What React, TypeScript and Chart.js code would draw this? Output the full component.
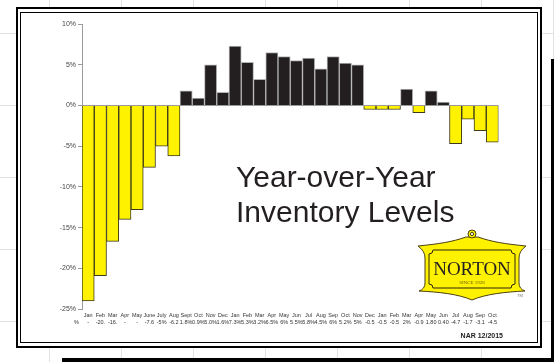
import React, { useEffect, useRef } from "react";
import { Chart, registerables } from "chart.js";

Chart.register(...registerables);

const months = [
  "Jan", "Feb", "Mar", "Apr", "May", "June", "July", "Aug", "Sept", "Oct", "Nov", "Dec",
  "Jan", "Feb", "Mar", "Apr", "May", "Jun", "Jul", "Aug", "Sep", "Oct", "Nov", "Dec",
  "Jan", "Feb", "Mar", "Apr", "May", "Jun", "Jul", "Aug", "Sep", "Oct",
];

const valueLabels = [
  "-", "-20.", "-16.", "-", "-", "-7.6", "-5%", "-6.2", "1.8%", "0.9%", "5.0%", "1.6%",
  "7.3%", "5.3%", "3.2%", "6.5%", "6%", "5.5%", "5.8%", "4.5%", "6%", "5.2%", "5%", "-0.5",
  "-0.5", "-0.5", "2%", "-0.9", "1.80", "0.40", "-4.7", "-1.7", "-3.1", "-4.5",
];

const values = [
  -24, -20.9, -16.7, -14, -12.8, -7.6, -5, -6.2, 1.8, 0.9, 5.0, 1.6,
  7.3, 5.3, 3.2, 6.5, 6, 5.5, 5.8, 4.5, 6, 5.2, 5, -0.5,
  -0.5, -0.5, 2, -0.9, 1.8, 0.4, -4.7, -1.7, -3.1, -4.5,
];

const yMin = -25;
const yMax = 10;
const yStep = 5;

const titleLines = ["Year-over-Year", "Inventory Levels"];
const sourceNote = "NAR 12/2015";
const rowHeader = "%";
const logoName = "NORTON";
const logoSince = "SINCE 1928";
const logoTm = "TM";

const FONT = '"Liberation Sans", Arial, Helvetica, sans-serif';
const SERIF = '"Liberation Serif", "Times New Roman", serif';
const YELLOW = "#fff200";
const DARK = "#231f20";

function drawLogo(ctx: CanvasRenderingContext2D) {
  ctx.save();
  // outer cartouche
  ctx.beginPath();
  ctx.moveTo(418, 246);
  ctx.bezierCurveTo(438, 244, 452, 242, 466, 237);
  ctx.lineTo(478, 237);
  ctx.bezierCurveTo(492, 242, 506, 244, 526, 246);
  ctx.quadraticCurveTo(519, 251, 519, 258);
  ctx.lineTo(519, 283);
  ctx.quadraticCurveTo(519, 289, 525, 291);
  ctx.bezierCurveTo(505, 292, 486, 294, 472, 300);
  ctx.bezierCurveTo(458, 294, 439, 292, 419, 291);
  ctx.quadraticCurveTo(425, 289, 425, 283);
  ctx.lineTo(425, 258);
  ctx.quadraticCurveTo(425, 251, 418, 246);
  ctx.closePath();
  ctx.fillStyle = YELLOW;
  ctx.fill();
  ctx.strokeStyle = "#4a3f10";
  ctx.lineWidth = 1;
  ctx.stroke();
  // ring
  ctx.beginPath();
  ctx.arc(472, 234, 4, 0, Math.PI * 2);
  ctx.fillStyle = YELLOW;
  ctx.fill();
  ctx.stroke();
  ctx.beginPath();
  ctx.arc(472, 234, 1.6, 0, Math.PI * 2);
  ctx.fillStyle = "#fff";
  ctx.fill();
  ctx.stroke();
  // inner panel with concave corners
  const x0 = 429, y0 = 250, x1 = 515, y1 = 288, r = 4;
  ctx.beginPath();
  ctx.moveTo(x0 + r, y0);
  ctx.lineTo(x1 - r, y0);
  ctx.arc(x1, y0, r, Math.PI, Math.PI / 2, true);
  ctx.lineTo(x1, y1 - r);
  ctx.arc(x1, y1, r, (3 * Math.PI) / 2, Math.PI, true);
  ctx.lineTo(x0 + r, y1);
  ctx.arc(x0, y1, r, 0, -Math.PI / 2, true);
  ctx.lineTo(x0, y0 + r);
  ctx.arc(x0, y0, r, Math.PI / 2, 0, true);
  ctx.closePath();
  ctx.strokeStyle = "#2a2410";
  ctx.stroke();
  // text
  ctx.fillStyle = DARK;
  ctx.textAlign = "center";
  ctx.textBaseline = "alphabetic";
  ctx.font = `19px ${SERIF}`;
  ctx.fillText(logoName, 472, 275);
  ctx.font = `5px ${SERIF}`;
  ctx.fillStyle = "#6b5a10";
  ctx.fillText(logoSince, 472, 284);
  ctx.font = `4px ${FONT}`;
  ctx.fillStyle = "#777";
  ctx.fillText(logoTm, 520, 297);
  ctx.restore();
}

export default function App() {
  const ref = useRef<HTMLCanvasElement>(null);

  useEffect(() => {
    if (!ref.current) return;

    const decor = {
      id: "decor",
      beforeDraw(chart: any) {
        const ctx: CanvasRenderingContext2D = chart.ctx;
        ctx.save();
        ctx.fillStyle = "#fff";
        ctx.fillRect(0, 0, 554, 362);
        // faint spreadsheet grid behind
        ctx.strokeStyle = "#e2e2e2";
        ctx.lineWidth = 1;
        for (let x = 49; x < 554; x += 72) {
          ctx.beginPath();
          ctx.moveTo(x + 0.5, 0);
          ctx.lineTo(x + 0.5, 362);
          ctx.stroke();
        }
        for (let y = 33; y < 362; y += 72) {
          ctx.beginPath();
          ctx.moveTo(0, y + 0.5);
          ctx.lineTo(554, y + 0.5);
          ctx.stroke();
        }
        // shadow
        ctx.fillStyle = "#000";
        ctx.fillRect(62, 358, 492, 4);
        ctx.fillRect(551, 59, 3, 303);
        // frame
        ctx.fillStyle = "#fff";
        ctx.fillRect(16, 7, 526, 341);
        ctx.strokeStyle = "#000";
        ctx.lineWidth = 2;
        ctx.strokeRect(17, 8, 524, 339);
        ctx.lineWidth = 1;
        ctx.strokeRect(20.5, 12.5, 517, 330);
        ctx.restore();
      },
      afterDraw(chart: any) {
        const ctx: CanvasRenderingContext2D = chart.ctx;
        ctx.save();
        // title
        ctx.fillStyle = DARK;
        ctx.textAlign = "left";
        ctx.textBaseline = "alphabetic";
        ctx.font = `30px ${FONT}`;
        ctx.fillText(titleLines[0], 236, 187);
        ctx.fillText(titleLines[1], 236, 222);
        // row header
        ctx.font = `5.5px ${FONT}`;
        ctx.fillStyle = "#333";
        ctx.textAlign = "center";
        ctx.textBaseline = "middle";
        ctx.fillText(rowHeader, 76.5, 322.5);
        // note
        ctx.font = `bold 7px ${FONT}`;
        ctx.fillStyle = "#222";
        ctx.textAlign = "right";
        ctx.textBaseline = "alphabetic";
        ctx.fillText(sourceNote, 503, 338);
        ctx.restore();
        drawLogo(ctx);
      },
    };

    const labels = months.map((m, i) => [m, valueLabels[i]]);
    const fills = values.map((v) => (v >= 0 ? DARK : YELLOW));
    const borders = values.map((v) => (v >= 0 ? "#b5b5b5" : "#3d3a1a"));

    const chart = new Chart(ref.current, {
      type: "bar",
      data: {
        labels,
        datasets: [
          {
            data: values,
            backgroundColor: fills,
            borderColor: borders,
            borderWidth: 1,
            categoryPercentage: 1,
            barPercentage: 1,
          },
        ],
      },
      options: {
        responsive: false,
        animation: false,
        devicePixelRatio: 1,
        layout: { padding: { left: 0, right: 55.5, top: 24, bottom: 28 } },
        plugins: {
          legend: { display: false },
          tooltip: { enabled: false },
        },
        scales: {
          x: {
            grid: { display: false, drawTicks: false },
            border: { display: false },
            ticks: {
              autoSkip: false,
              maxRotation: 0,
              minRotation: 0,
              padding: 3,
              color: "#333",
              font: { family: FONT, size: 5.5, lineHeight: 1.25 },
            },
            afterFit: (s: any) => {
              s.height = 25;
            },
          },
          y: {
            min: yMin,
            max: yMax,
            ticks: {
              stepSize: yStep,
              padding: 2,
              color: "#444",
              font: { family: FONT, size: 7 },
              callback: (v: any) => `${v}%`,
            },
            grid: {
              color: (c: any) => (c.tick && c.tick.value === 0 ? "#9a9a9a" : "rgba(0,0,0,0)"),
              tickColor: "#9a9a9a",
              tickLength: 4,
            },
            border: { color: "#9a9a9a" },
            afterFit: (s: any) => {
              s.width = 82;
            },
          },
        },
      },
      plugins: [decor],
    } as any);

    return () => chart.destroy();
  }, []);

  return (
    <div style={{ position: "fixed", left: 0, top: 0, width: 554, height: 362 }}>
      <canvas ref={ref} width={554} height={362} style={{ display: "block" }} />
    </div>
  );
}
